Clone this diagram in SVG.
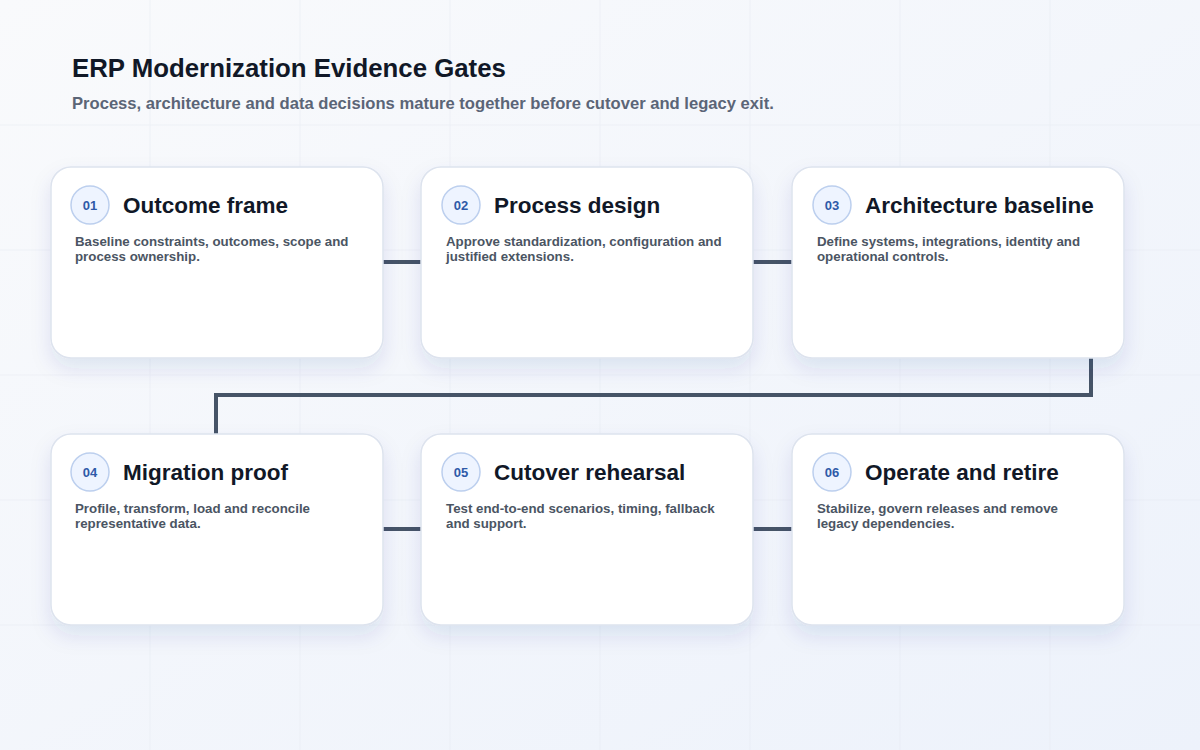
<svg xmlns="http://www.w3.org/2000/svg" width="1200" height="750" viewBox="0 0 1200 750">
<defs>
<linearGradient id="bg" x1="0" y1="0" x2="1" y2="1">
<stop offset="0" stop-color="#f9fafc"/>
<stop offset="1" stop-color="#edf2fb"/>
</linearGradient>
<filter id="sh" x="-20%" y="-20%" width="140%" height="160%">
<feDropShadow dx="0" dy="10" stdDeviation="10" flood-color="#1e3a8a" flood-opacity="0.10"/>
</filter>
<style>
.card{fill:#ffffff;stroke:#dde3ee;stroke-width:1.5;filter:url(#sh)}
.badge{fill:#eef4ff;stroke:#bccfee;stroke-width:1.5}
.num{font-family:"Liberation Sans",Arial,sans-serif;font-weight:700;font-size:13px;fill:#2f5aa8;text-anchor:middle}
.ttl{font-family:"Liberation Sans",Arial,sans-serif;font-weight:700;font-size:22.5px;fill:#111827}
.dsc{font-family:"Liberation Sans",Arial,sans-serif;font-weight:700;font-size:13.3px;fill:#4b5563}
.conn{fill:none;stroke:#465467;stroke-width:4;stroke-linejoin:miter}
.grid{stroke:#e6eaf1;stroke-width:1;opacity:0.55}
</style>
</defs>
<rect width="1200" height="750" fill="url(#bg)"/>
<g class="grid">
<line x1="150" y1="0" x2="150" y2="750"/><line x1="300" y1="0" x2="300" y2="750"/><line x1="450" y1="0" x2="450" y2="750"/><line x1="600" y1="0" x2="600" y2="750"/><line x1="750" y1="0" x2="750" y2="750"/><line x1="900" y1="0" x2="900" y2="750"/><line x1="1050" y1="0" x2="1050" y2="750"/>
<line x1="0" y1="125" x2="1200" y2="125"/><line x1="0" y1="250" x2="1200" y2="250"/><line x1="0" y1="375" x2="1200" y2="375"/><line x1="0" y1="500" x2="1200" y2="500"/><line x1="0" y1="625" x2="1200" y2="625"/>
</g>
<text x="72" y="77" font-family="Liberation Sans,Arial,sans-serif" font-weight="700" font-size="25.8" fill="#111827">ERP Modernization Evidence Gates</text>
<text x="72" y="109" font-family="Liberation Sans,Arial,sans-serif" font-weight="700" font-size="16.6" fill="#5b6577">Process, architecture and data decisions mature together before cutover and legacy exit.</text>
<g id="connectors">
<line class="conn" x1="383" y1="262" x2="421" y2="262"/>
<line class="conn" x1="753" y1="262" x2="792" y2="262"/>
<polyline class="conn" points="1091,358 1091,395 216,395 216,434"/>
<line class="conn" x1="383" y1="529" x2="421" y2="529"/>
<line class="conn" x1="753" y1="529" x2="792" y2="529"/>
</g>
<g id="n1">
<rect class="card" x="51" y="167" width="332" height="191" rx="20"/>
<circle class="badge" cx="90" cy="205" r="19"/><text class="num" x="90" y="210">01</text>
<text class="ttl" x="123" y="213">Outcome frame</text>
<text class="dsc" x="75" y="246">Baseline constraints, outcomes, scope and</text>
<text class="dsc" x="75" y="261">process ownership.</text>
</g>
<g id="n2">
<rect class="card" x="421" y="167" width="332" height="191" rx="20"/>
<circle class="badge" cx="461" cy="205" r="19"/><text class="num" x="461" y="210">02</text>
<text class="ttl" x="494" y="213">Process design</text>
<text class="dsc" x="446" y="246">Approve standardization, configuration and</text>
<text class="dsc" x="446" y="261">justified extensions.</text>
</g>
<g id="n3">
<rect class="card" x="792" y="167" width="332" height="191" rx="20"/>
<circle class="badge" cx="832" cy="205" r="19"/><text class="num" x="832" y="210">03</text>
<text class="ttl" x="865" y="213">Architecture baseline</text>
<text class="dsc" x="817" y="246">Define systems, integrations, identity and</text>
<text class="dsc" x="817" y="261">operational controls.</text>
</g>
<g id="n4">
<rect class="card" x="51" y="434" width="332" height="191" rx="20"/>
<circle class="badge" cx="90" cy="472" r="19"/><text class="num" x="90" y="477">04</text>
<text class="ttl" x="123" y="480">Migration proof</text>
<text class="dsc" x="75" y="513">Profile, transform, load and reconcile</text>
<text class="dsc" x="75" y="528">representative data.</text>
</g>
<g id="n5">
<rect class="card" x="421" y="434" width="332" height="191" rx="20"/>
<circle class="badge" cx="461" cy="472" r="19"/><text class="num" x="461" y="477">05</text>
<text class="ttl" x="494" y="480">Cutover rehearsal</text>
<text class="dsc" x="446" y="513">Test end-to-end scenarios, timing, fallback</text>
<text class="dsc" x="446" y="528">and support.</text>
</g>
<g id="n6">
<rect class="card" x="792" y="434" width="332" height="191" rx="20"/>
<circle class="badge" cx="832" cy="472" r="19"/><text class="num" x="832" y="477">06</text>
<text class="ttl" x="865" y="480">Operate and retire</text>
<text class="dsc" x="817" y="513">Stabilize, govern releases and remove</text>
<text class="dsc" x="817" y="528">legacy dependencies.</text>
</g>
</svg>
